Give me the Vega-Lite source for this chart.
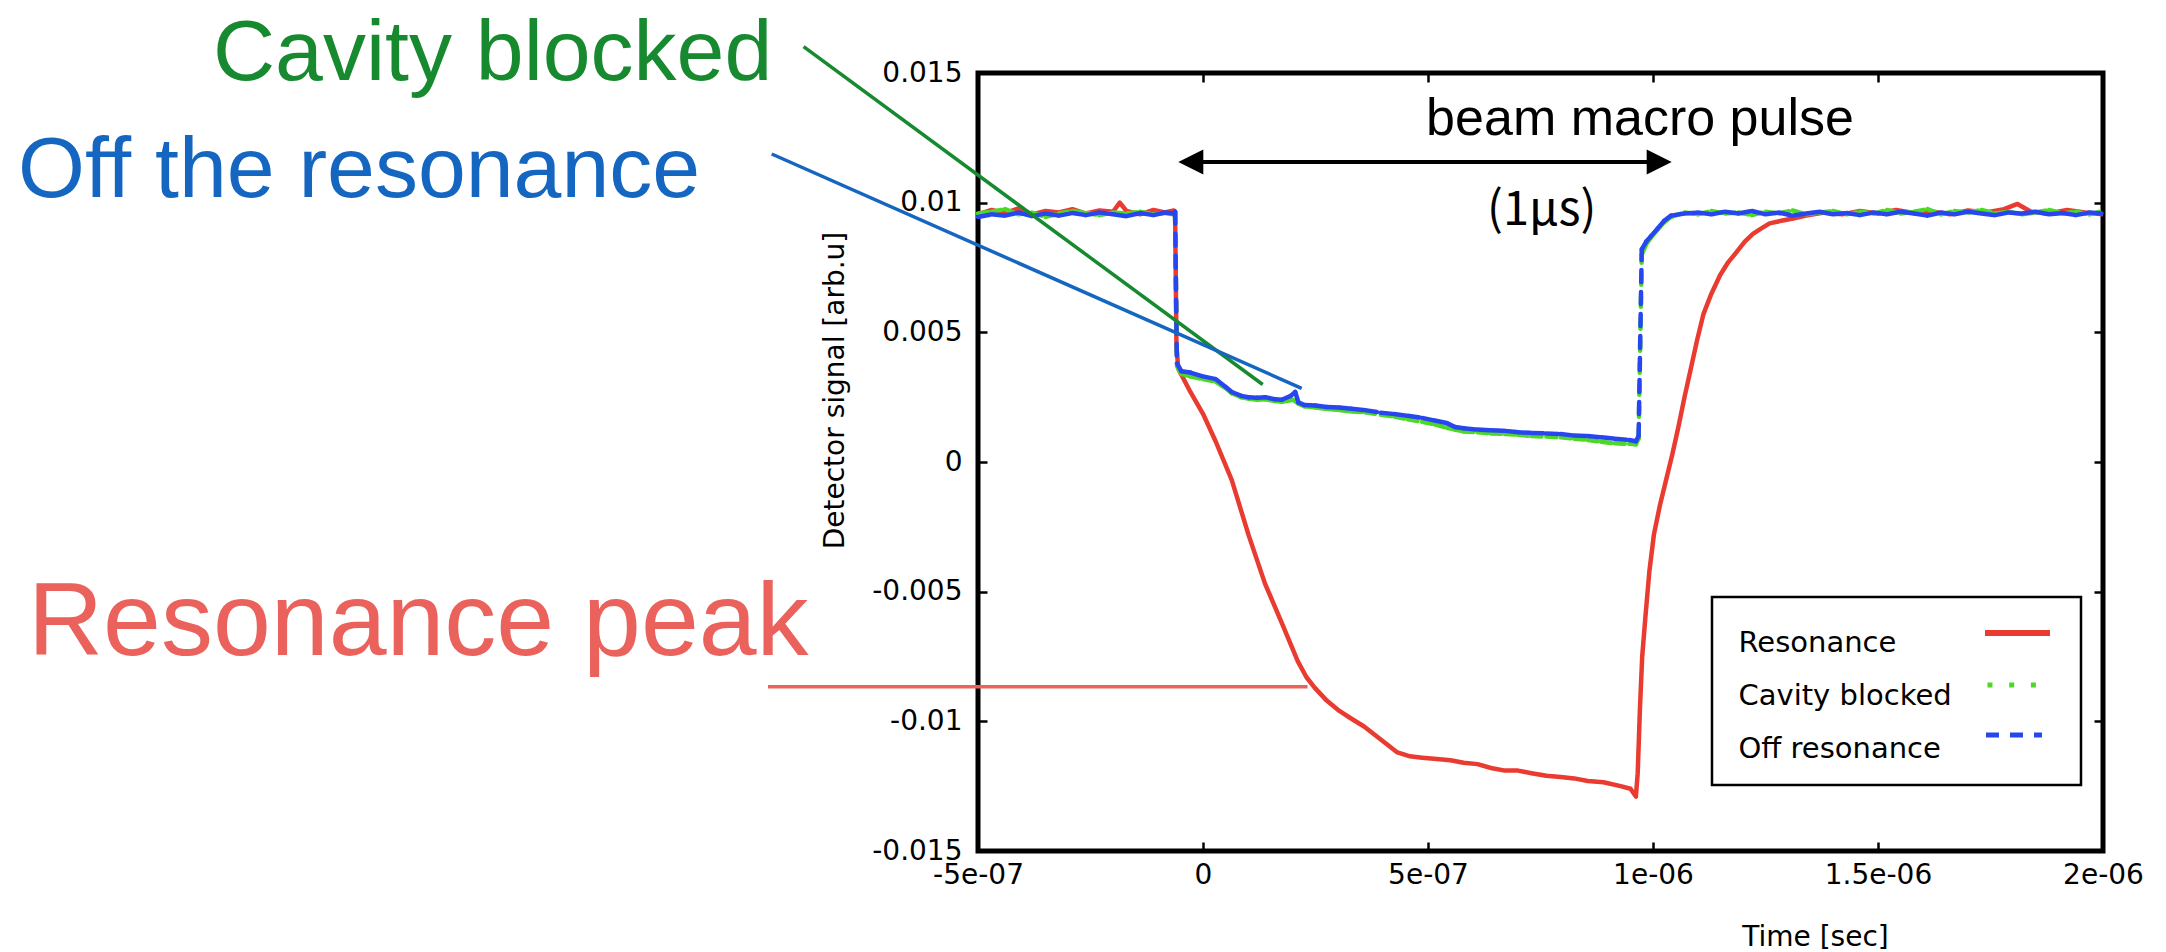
{
"$schema":"https://vega.github.io/schema/vega-lite/v6.json",
"width":1125,"height":778,
"autosize":{"type":"none"},
"padding":{"left":978,"top":73,"right":63,"bottom":101},
"background":"white",
"config":{
 "view":{"stroke":"black","strokeWidth":5},
 "axis":{"domain":false,"grid":false,"tickColor":"black","tickWidth":2.5,"tickSize":-9,"labelFont":"DejaVu Sans","labelFontSize":28,"labelColor":"black","labelFlush":false,"labelOverlap":false,"labelBound":false,"titleFont":"DejaVu Sans","titleFontSize":28,"titleFontWeight":"normal","titleColor":"black"}
},
"datasets":{
 "red":[{"t":-5e-7,"v":0.00955},{"t":-4.7e-7,"v":0.00972},{"t":-4.4e-7,"v":0.0096},{"t":-4.1e-7,"v":0.00978},{"t":-3.8e-7,"v":0.00955},{"t":-3.5e-7,"v":0.00968},{"t":-3.2e-7,"v":0.00962},{"t":-2.9e-7,"v":0.00975},{"t":-2.6e-7,"v":0.00958},{"t":-2.3e-7,"v":0.0097},{"t":-2e-7,"v":0.00965},{"t":-1.85e-7,"v":0.01},{"t":-1.7e-7,"v":0.00968},{"t":-1.4e-7,"v":0.00955},{"t":-1.1e-7,"v":0.00972},{"t":-8.5e-8,"v":0.00962},{"t":-6.5e-8,"v":0.0097},{"t":-6.2e-8,"v":0.00965},{"t":-5.9e-8,"v":0.0045},{"t":-5.5e-8,"v":0.0036},{"t":-2.8e-8,"v":0.0027},{"t":0,"v":0.00186},{"t":2.8e-8,"v":0.0008},{"t":6.4e-8,"v":-0.0007},{"t":1.01e-7,"v":-0.0028},{"t":1.38e-7,"v":-0.0047},{"t":1.75e-7,"v":-0.0062},{"t":2.11e-7,"v":-0.0077},{"t":2.3e-7,"v":-0.0083},{"t":2.48e-7,"v":-0.0087},{"t":2.75e-7,"v":-0.0092},{"t":3.03e-7,"v":-0.0096},{"t":3.3e-7,"v":-0.0099},{"t":3.58e-7,"v":-0.0102},{"t":3.95e-7,"v":-0.0107},{"t":4.32e-7,"v":-0.0112},{"t":4.6e-7,"v":-0.01135},{"t":4.87e-7,"v":-0.0114},{"t":5.2e-7,"v":-0.01145},{"t":5.5e-7,"v":-0.0115},{"t":5.79e-7,"v":-0.0116},{"t":6.1e-7,"v":-0.01165},{"t":6.4e-7,"v":-0.0118},{"t":6.71e-7,"v":-0.0119},{"t":7e-7,"v":-0.0119},{"t":7.3e-7,"v":-0.012},{"t":7.63e-7,"v":-0.0121},{"t":7.95e-7,"v":-0.01215},{"t":8.25e-7,"v":-0.0122},{"t":8.55e-7,"v":-0.0123},{"t":8.9e-7,"v":-0.01235},{"t":9.28e-7,"v":-0.0125},{"t":9.5e-7,"v":-0.0126},{"t":9.62e-7,"v":-0.0129},{"t":9.66e-7,"v":-0.012},{"t":9.71e-7,"v":-0.0095},{"t":9.76e-7,"v":-0.0075},{"t":9.83e-7,"v":-0.006},{"t":9.92e-7,"v":-0.0042},{"t":1.002e-6,"v":-0.0028},{"t":1.015e-6,"v":-0.0017},{"t":1.029e-6,"v":-0.0007},{"t":1.043e-6,"v":0.0003},{"t":1.057e-6,"v":0.0014},{"t":1.07e-6,"v":0.0025},{"t":1.084e-6,"v":0.0036},{"t":1.098e-6,"v":0.0047},{"t":1.112e-6,"v":0.0057},{"t":1.13e-6,"v":0.0065},{"t":1.149e-6,"v":0.0072},{"t":1.167e-6,"v":0.0077},{"t":1.186e-6,"v":0.0081},{"t":1.204e-6,"v":0.0085},{"t":1.222e-6,"v":0.0088},{"t":1.24e-6,"v":0.009},{"t":1.259e-6,"v":0.0092},{"t":1.285e-6,"v":0.0093},{"t":1.314e-6,"v":0.0094},{"t":1.34e-6,"v":0.0095},{"t":1.38e-6,"v":0.00962},{"t":1.42e-6,"v":0.00955},{"t":1.46e-6,"v":0.00968},{"t":1.5e-6,"v":0.00958},{"t":1.54e-6,"v":0.00972},{"t":1.58e-6,"v":0.0096},{"t":1.62e-6,"v":0.00966},{"t":1.66e-6,"v":0.00955},{"t":1.7e-6,"v":0.0097},{"t":1.74e-6,"v":0.00962},{"t":1.78e-6,"v":0.00975},{"t":1.81e-6,"v":0.00995},{"t":1.84e-6,"v":0.00965},{"t":1.88e-6,"v":0.00958},{"t":1.92e-6,"v":0.00972},{"t":1.96e-6,"v":0.00962},{"t":2e-6,"v":0.00955}],
 "green":[{"t":-5e-7,"v":0.00958},{"t":-4.7e-7,"v":0.00965},{"t":-4.4e-7,"v":0.00975},{"t":-4.1e-7,"v":0.00955},{"t":-3.8e-7,"v":0.00962},{"t":-3.5e-7,"v":0.00945},{"t":-3.2e-7,"v":0.00958},{"t":-2.9e-7,"v":0.00968},{"t":-2.6e-7,"v":0.0096},{"t":-2.3e-7,"v":0.00952},{"t":-2e-7,"v":0.00962},{"t":-1.7e-7,"v":0.00958},{"t":-1.4e-7,"v":0.00965},{"t":-1.1e-7,"v":0.00955},{"t":-8.5e-8,"v":0.0096},{"t":-6.5e-8,"v":0.00955},{"t":-6.2e-8,"v":0.0096},{"t":-5.8e-8,"v":0.0037},{"t":-4.8e-8,"v":0.0034},{"t":-2.8e-8,"v":0.0033},{"t":0,"v":0.0032},{"t":2.8e-8,"v":0.0031},{"t":5e-8,"v":0.00285},{"t":6.4e-8,"v":0.00265},{"t":8.5e-8,"v":0.0025},{"t":1.01e-7,"v":0.00245},{"t":1.2e-7,"v":0.0024},{"t":1.38e-7,"v":0.00242},{"t":1.6e-7,"v":0.00235},{"t":1.75e-7,"v":0.00232},{"t":2e-7,"v":0.0024},{"t":2.12e-7,"v":0.00225},{"t":2.25e-7,"v":0.00215},{"t":2.5e-7,"v":0.0021},{"t":2.75e-7,"v":0.00205},{"t":3.03e-7,"v":0.002},{"t":3.3e-7,"v":0.00195},{"t":3.6e-7,"v":0.00192},{"t":3.95e-7,"v":0.00182},{"t":4.25e-7,"v":0.00175},{"t":4.55e-7,"v":0.00165},{"t":4.87e-7,"v":0.00155},{"t":5.15e-7,"v":0.00145},{"t":5.42e-7,"v":0.00132},{"t":5.6e-7,"v":0.00125},{"t":5.79e-7,"v":0.00118},{"t":6.1e-7,"v":0.00115},{"t":6.4e-7,"v":0.0011},{"t":6.71e-7,"v":0.00108},{"t":7e-7,"v":0.00105},{"t":7.3e-7,"v":0.001},{"t":7.63e-7,"v":0.00098},{"t":7.95e-7,"v":0.00095},{"t":8.25e-7,"v":0.0009},{"t":8.55e-7,"v":0.00085},{"t":8.85e-7,"v":0.00078},{"t":9.15e-7,"v":0.00072},{"t":9.47e-7,"v":0.0007},{"t":9.62e-7,"v":0.00068},{"t":9.68e-7,"v":0.0009},{"t":9.75e-7,"v":0.008},{"t":9.85e-7,"v":0.0084},{"t":9.95e-7,"v":0.00865},{"t":1.01e-6,"v":0.00895},{"t":1.025e-6,"v":0.00925},{"t":1.04e-6,"v":0.00945},{"t":1.07e-6,"v":0.00962},{"t":1.1e-6,"v":0.00955},{"t":1.13e-6,"v":0.00968},{"t":1.16e-6,"v":0.00958},{"t":1.19e-6,"v":0.00962},{"t":1.22e-6,"v":0.00952},{"t":1.25e-6,"v":0.00965},{"t":1.28e-6,"v":0.00958},{"t":1.31e-6,"v":0.0097},{"t":1.34e-6,"v":0.00955},{"t":1.37e-6,"v":0.00962},{"t":1.4e-6,"v":0.00968},{"t":1.43e-6,"v":0.00955},{"t":1.46e-6,"v":0.00965},{"t":1.49e-6,"v":0.00958},{"t":1.52e-6,"v":0.00972},{"t":1.55e-6,"v":0.00958},{"t":1.58e-6,"v":0.00965},{"t":1.61e-6,"v":0.00975},{"t":1.64e-6,"v":0.00955},{"t":1.67e-6,"v":0.00968},{"t":1.7e-6,"v":0.00962},{"t":1.73e-6,"v":0.00972},{"t":1.76e-6,"v":0.00958},{"t":1.79e-6,"v":0.00965},{"t":1.82e-6,"v":0.00955},{"t":1.85e-6,"v":0.00962},{"t":1.88e-6,"v":0.00972},{"t":1.91e-6,"v":0.00958},{"t":1.94e-6,"v":0.00965},{"t":1.97e-6,"v":0.00955},{"t":2e-6,"v":0.00968}],
 "blue":[{"t":-5e-7,"v":0.00945},{"t":-4.7e-7,"v":0.00955},{"t":-4.4e-7,"v":0.0095},{"t":-4.1e-7,"v":0.00962},{"t":-3.8e-7,"v":0.00948},{"t":-3.5e-7,"v":0.00958},{"t":-3.2e-7,"v":0.0095},{"t":-2.9e-7,"v":0.0096},{"t":-2.6e-7,"v":0.00952},{"t":-2.3e-7,"v":0.00962},{"t":-2e-7,"v":0.00955},{"t":-1.7e-7,"v":0.00948},{"t":-1.4e-7,"v":0.0096},{"t":-1.1e-7,"v":0.00952},{"t":-8.5e-8,"v":0.00962},{"t":-6.5e-8,"v":0.00958},{"t":-6.2e-8,"v":0.00965},{"t":-5.8e-8,"v":0.0038},{"t":-4.8e-8,"v":0.0035},{"t":-2.8e-8,"v":0.00345},{"t":0,"v":0.0033},{"t":2.8e-8,"v":0.0032},{"t":5e-8,"v":0.0029},{"t":6.4e-8,"v":0.0027},{"t":8.5e-8,"v":0.00255},{"t":1.01e-7,"v":0.0025},{"t":1.2e-7,"v":0.00248},{"t":1.38e-7,"v":0.0025},{"t":1.6e-7,"v":0.00242},{"t":1.75e-7,"v":0.0024},{"t":1.95e-7,"v":0.00255},{"t":2.05e-7,"v":0.0027},{"t":2.12e-7,"v":0.0023},{"t":2.25e-7,"v":0.0022},{"t":2.5e-7,"v":0.00218},{"t":2.75e-7,"v":0.00212},{"t":3.03e-7,"v":0.0021},{"t":3.3e-7,"v":0.00205},{"t":3.6e-7,"v":0.002},{"t":3.95e-7,"v":0.0019},{"t":4.25e-7,"v":0.00185},{"t":4.55e-7,"v":0.00178},{"t":4.87e-7,"v":0.0017},{"t":5.15e-7,"v":0.0016},{"t":5.42e-7,"v":0.0015},{"t":5.6e-7,"v":0.00135},{"t":5.79e-7,"v":0.0013},{"t":6.1e-7,"v":0.00125},{"t":6.4e-7,"v":0.00122},{"t":6.71e-7,"v":0.0012},{"t":7e-7,"v":0.00115},{"t":7.3e-7,"v":0.00112},{"t":7.63e-7,"v":0.0011},{"t":7.95e-7,"v":0.00108},{"t":8.25e-7,"v":0.00102},{"t":8.55e-7,"v":0.001},{"t":8.85e-7,"v":0.00095},{"t":9.15e-7,"v":0.0009},{"t":9.47e-7,"v":0.00085},{"t":9.62e-7,"v":0.0008},{"t":9.68e-7,"v":0.001},{"t":9.75e-7,"v":0.0082},{"t":9.85e-7,"v":0.0085},{"t":9.95e-7,"v":0.0087},{"t":1.01e-6,"v":0.009},{"t":1.025e-6,"v":0.0093},{"t":1.04e-6,"v":0.0095},{"t":1.07e-6,"v":0.00958},{"t":1.1e-6,"v":0.00962},{"t":1.13e-6,"v":0.00955},{"t":1.16e-6,"v":0.00965},{"t":1.19e-6,"v":0.00958},{"t":1.22e-6,"v":0.00968},{"t":1.25e-6,"v":0.00955},{"t":1.28e-6,"v":0.00962},{"t":1.31e-6,"v":0.0095},{"t":1.34e-6,"v":0.00958},{"t":1.37e-6,"v":0.00965},{"t":1.4e-6,"v":0.00955},{"t":1.43e-6,"v":0.0096},{"t":1.46e-6,"v":0.00952},{"t":1.49e-6,"v":0.00962},{"t":1.52e-6,"v":0.00955},{"t":1.55e-6,"v":0.00965},{"t":1.58e-6,"v":0.00958},{"t":1.61e-6,"v":0.0095},{"t":1.64e-6,"v":0.00962},{"t":1.67e-6,"v":0.00955},{"t":1.7e-6,"v":0.00965},{"t":1.73e-6,"v":0.00958},{"t":1.76e-6,"v":0.00952},{"t":1.79e-6,"v":0.00962},{"t":1.82e-6,"v":0.00958},{"t":1.85e-6,"v":0.00965},{"t":1.88e-6,"v":0.00955},{"t":1.91e-6,"v":0.0096},{"t":1.94e-6,"v":0.00952},{"t":1.97e-6,"v":0.00962},{"t":2e-6,"v":0.00958}],
 "pointers":[{"k":"Cavity blocked","t":-8.876e-7,"v":0.016015,"t2":1.3267e-7,"v2":0.002988},{"k":"Off the resonance","t":-9.584e-7,"v":0.011877,"t2":2.193e-7,"v2":0.002842},{"k":"Resonance peak","t":-9.667e-7,"v":-0.008665,"t2":2.322e-7,"v2":-0.008665}],
 "notes":[{"k":"Cavity blocked","label":"Cavity blocked","t":-2.2e-6,"v":0.01473},{"k":"Off the resonance","label":"Off the resonance","t":-2.6333e-6,"v":0.01023},{"k":"Resonance peak","label":"Resonance peak","t":-2.6111e-6,"v":-0.007442}],
 "pulse":[{"label":"beam macro pulse","t":9.711e-7,"v":0.012609},{"label":"(1μs)","t":7.527e-7,"v":0.009139}],
 "arrow":[{"t":-1.78e-8,"t2":1.00444e-6,"v":0.011568}],
 "heads":[{"dir":"left","t":-2.71e-8,"v":0.011568},{"dir":"right","t":1.0138e-6,"v":0.011568}],
 "legendbox":[{"t":1.1311e-6,"v":-0.005206,"t2":1.9511e-6,"v2":-0.012455}],
 "legendtext":[{"label":"Resonance","t":1.19e-6,"v":-0.007327},{"label":"Cavity blocked","t":1.19e-6,"v":-0.00937},{"label":"Off resonance","t":1.19e-6,"v":-0.011414}],
 "legendsym":[{"s":"Resonance","t":1.7378e-6,"t2":1.8822e-6,"v":-0.006594},{"s":"Cavity blocked","t":1.7433e-6,"t2":1.86e-6,"v":-0.008599},{"s":"Off resonance","t":1.74e-6,"t2":1.8644e-6,"v":-0.010527}]
},
"encoding":{
 "x":{"field":"t","type":"quantitative","scale":{"domain":[-5e-7,2e-6],"nice":false,"zero":false},"axis":null},
 "y":{"field":"v","type":"quantitative","scale":{"domain":[-0.015,0.015],"nice":false,"zero":false},"axis":null}
},
"layer":[
 {"data":{"name":"red"},
  "mark":{"type":"line","color":"#ea3b30","strokeWidth":4.5,"strokeJoin":"round"},
  "encoding":{
   "x":{"field":"t","type":"quantitative","scale":{"domain":[-5e-7,2e-6],"nice":false,"zero":false},
        "axis":{"orient":"bottom","values":[-5e-7,0,5e-7,1e-6,1.5e-6,2e-6],"labelExpr":"['-5e-07','0','5e-07','1e-06','1.5e-06','2e-06'][round(datum.value*2e6)+1]","labelPadding":19,"title":"Time [sec]","titleX":837,"titleY":94,"titleBaseline":"alphabetic","titleAlign":"center"}},
   "y":{"field":"v","type":"quantitative","scale":{"domain":[-0.015,0.015],"nice":false,"zero":false},
        "axis":{"orient":"left","values":[-0.015,-0.01,-0.005,0,0.005,0.01,0.015],"labelExpr":"'' + datum.value","labelPadding":25,"title":"Detector signal [arb.u]","titleX":-135,"titleY":317,"titleBaseline":"alphabetic","titleAlign":"center","titleAngle":270}}
  }},
 {"data":{"name":"green"},
  "transform":[{"window":[{"op":"lead","field":"t","as":"t2"},{"op":"lead","field":"v","as":"v2"}],"sort":[{"field":"t","order":"ascending"}]},{"filter":"isValid(datum.t2)"}],
  "mark":{"type":"rule","color":"#4cd926","strokeWidth":4.5,"strokeDash":[10,12],"strokeCap":"round"},
  "encoding":{"x2":{"field":"t2"},"y2":{"field":"v2"}}},
 {"data":{"name":"blue"},
  "transform":[{"window":[{"op":"lead","field":"t","as":"t2"},{"op":"lead","field":"v","as":"v2"}],"sort":[{"field":"t","order":"ascending"}]},{"filter":"isValid(datum.t2)"}],
  "mark":{"type":"rule","color":"#2846f0","strokeWidth":4.5,"strokeDash":[12,10],"strokeCap":"round"},
  "encoding":{"x2":{"field":"t2"},"y2":{"field":"v2"}}},
 {"data":{"name":"pointers"},
  "mark":{"type":"rule","strokeWidth":3.5},
  "encoding":{"x2":{"field":"t2"},"y2":{"field":"v2"},
   "color":{"field":"k","type":"nominal","scale":{"domain":["Cavity blocked","Off the resonance","Resonance peak"],"range":["#178a30","#1566c0","#ea625b"]},"legend":null}}},
 {"data":{"name":"notes"},
  "transform":[{"filter":"datum.k != 'Resonance peak'"}],
  "mark":{"type":"text","align":"left","baseline":"alphabetic","font":"Liberation Sans","fontSize":86},
  "encoding":{"text":{"field":"label"},
   "color":{"field":"k","type":"nominal","scale":{"domain":["Cavity blocked","Off the resonance","Resonance peak"],"range":["#178a30","#1566c0","#ea625b"]},"legend":null}}},
 {"data":{"name":"notes"},
  "transform":[{"filter":"datum.k == 'Resonance peak'"}],
  "mark":{"type":"text","align":"left","baseline":"alphabetic","font":"Liberation Sans","fontSize":104},
  "encoding":{"text":{"field":"label"},
   "color":{"field":"k","type":"nominal","scale":{"domain":["Cavity blocked","Off the resonance","Resonance peak"],"range":["#178a30","#1566c0","#ea625b"]},"legend":null}}},
 {"data":{"name":"pulse"},
  "transform":[{"filter":"datum.label == 'beam macro pulse'"}],
  "mark":{"type":"text","align":"center","baseline":"alphabetic","font":"Liberation Sans","fontSize":52,"color":"black"},
  "encoding":{"text":{"field":"label"}}},
 {"data":{"name":"pulse"},
  "transform":[{"filter":"datum.label != 'beam macro pulse'"}],
  "mark":{"type":"text","align":"center","baseline":"alphabetic","font":"Noto Sans CJK JP","fontSize":47,"color":"black"},
  "encoding":{"text":{"field":"label"}}},
 {"data":{"name":"arrow"},
  "mark":{"type":"rule","color":"black","strokeWidth":4},
  "encoding":{"x2":{"field":"t2"}}},
 {"data":{"name":"heads"},
  "mark":{"type":"point","filled":true,"color":"black","opacity":1,"size":625},
  "encoding":{"shape":{"field":"dir","type":"nominal","scale":{"domain":["left","right"],"range":["M-1,0L1,-1L1,1Z","M1,0L-1,-1L-1,1Z"]},"legend":null}}},
 {"data":{"name":"legendbox"},
  "mark":{"type":"rect","fill":"white","stroke":"black","strokeWidth":2.5},
  "encoding":{
   "x":{"field":"t","type":"quantitative","scale":{"domain":[-5e-7,2e-6],"nice":false,"zero":false},
        "axis":{"orient":"top","values":[-5e-7,0,5e-7,1e-6,1.5e-6,2e-6],"labels":false,"title":null}},
   "y":{"field":"v","type":"quantitative","scale":{"domain":[-0.015,0.015],"nice":false,"zero":false},
        "axis":{"orient":"right","values":[-0.015,-0.01,-0.005,0,0.005,0.01,0.015],"labels":false,"title":null}},
   "x2":{"field":"t2"},"y2":{"field":"v2"}}},
 {"data":{"name":"legendtext"},
  "mark":{"type":"text","align":"left","baseline":"alphabetic","font":"DejaVu Sans","fontSize":29,"color":"black"},
  "encoding":{"text":{"field":"label"}}},
 {"data":{"name":"legendsym"},
  "transform":[{"filter":"datum.s == 'Resonance'"}],
  "mark":{"type":"rule","color":"#ea3b30","strokeWidth":6},
  "encoding":{"x2":{"field":"t2"}}},
 {"data":{"name":"legendsym"},
  "transform":[{"filter":"datum.s == 'Cavity blocked'"}],
  "mark":{"type":"rule","color":"#4cd926","strokeWidth":5,"strokeDash":[5,16.7]},
  "encoding":{"x2":{"field":"t2"}}},
 {"data":{"name":"legendsym"},
  "transform":[{"filter":"datum.s == 'Off resonance'"}],
  "mark":{"type":"rule","color":"#2846f0","strokeWidth":5,"strokeDash":[13,11]},
  "encoding":{"x2":{"field":"t2"}}}
],
"resolve":{"axis":{"x":"independent","y":"independent"}}
}
